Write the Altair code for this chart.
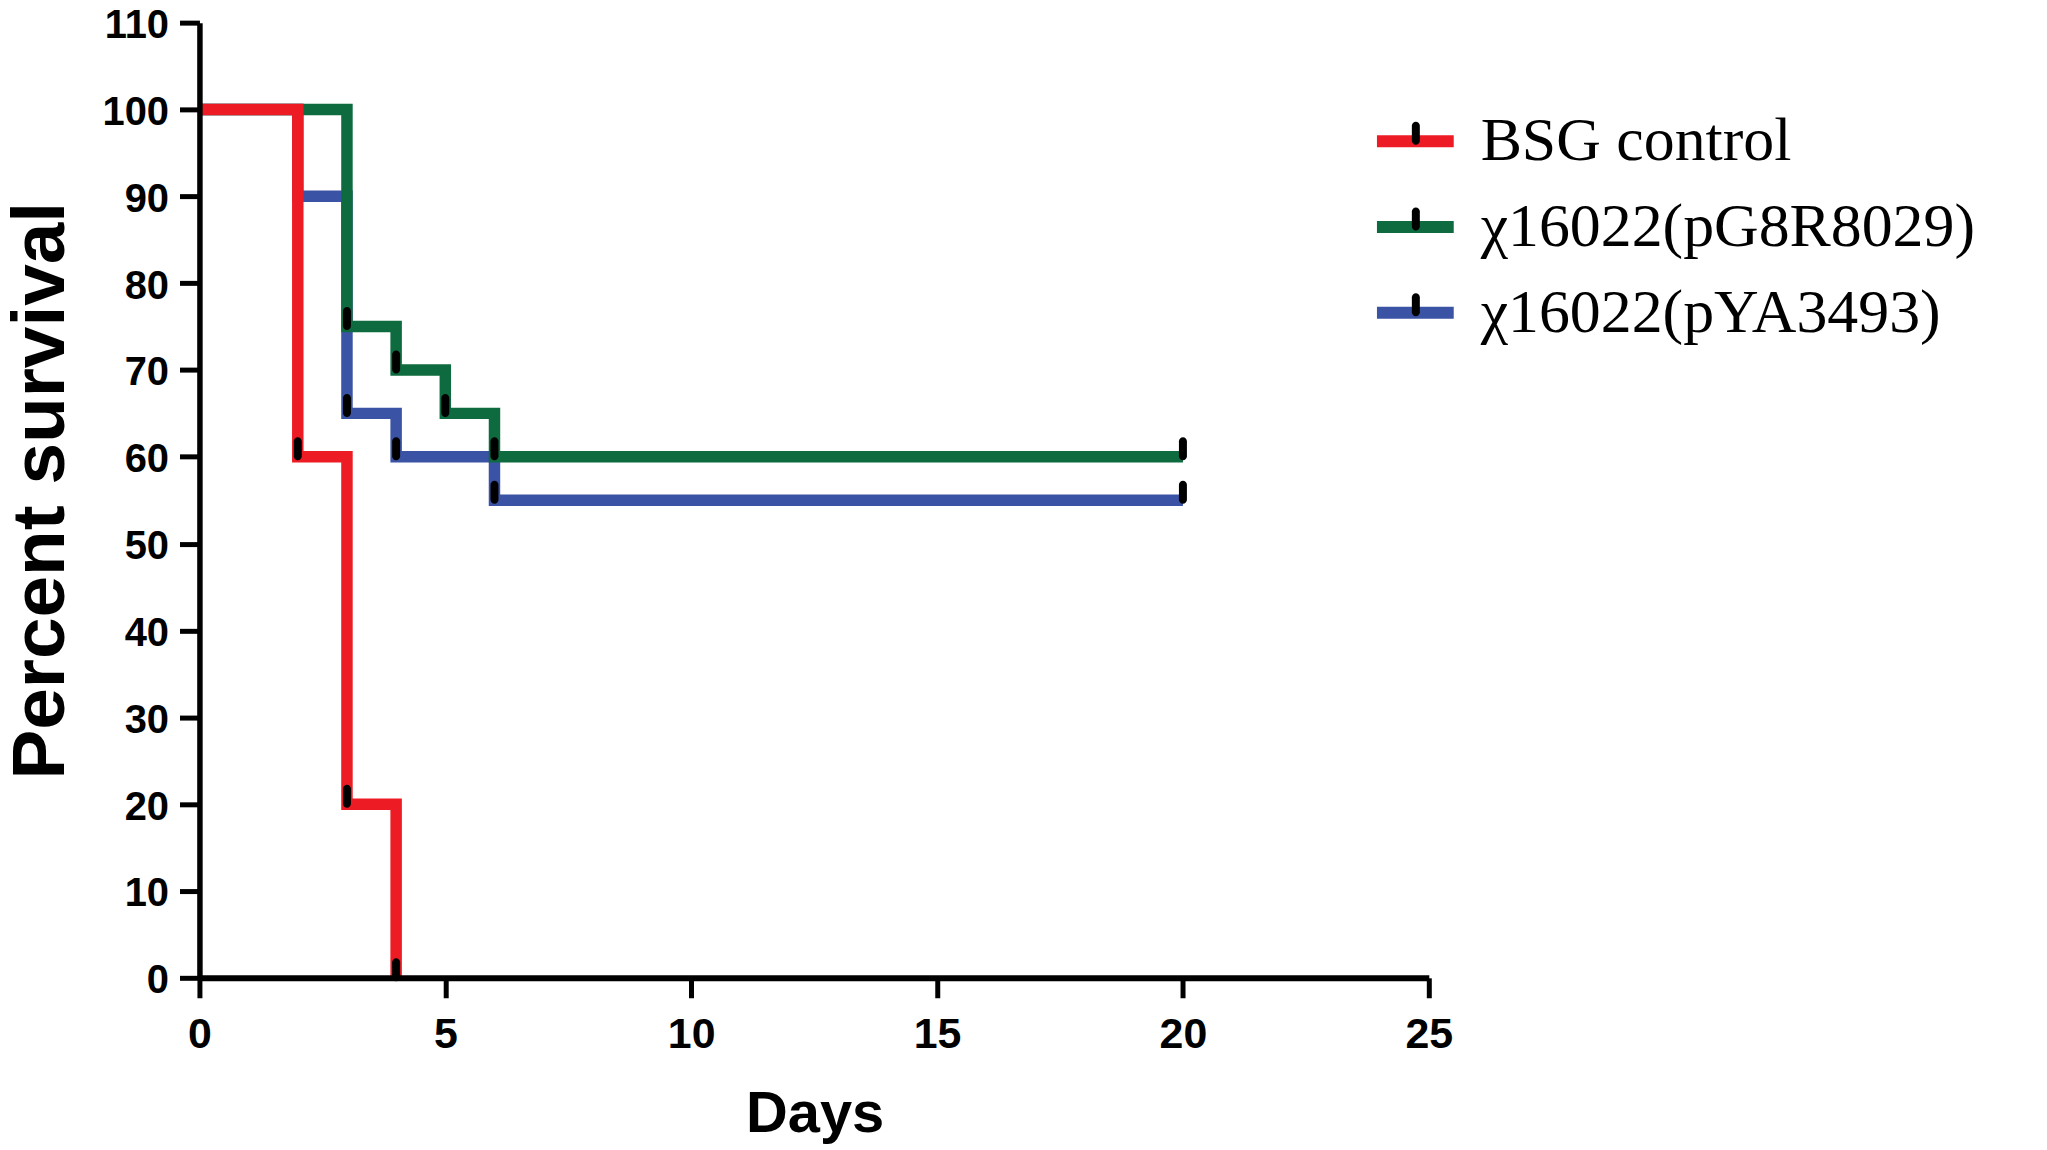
import altair as alt
import pandas as pd

series_names = ["BSG control", "χ16022(pG8R8029)", "χ16022(pYA3493)"]
series_colors = ["#ED1C24", "#0E6B3F", "#3A53A4"]

# Kaplan-Meier step points (day, percent survival)
bsg_days = [0, 2, 3, 4]
bsg_pct = [100, 60, 20, 0]
g8r_days = [0, 3, 4, 5, 6, 20]
g8r_pct = [100, 75, 70, 65, 60, 60]
ya_days = [0, 2, 3, 4, 6, 20]
ya_pct = [100, 90, 65, 60, 55, 55]

# censor / event tick marks
bsg_mark_days = [2, 3, 4]
bsg_mark_pct = [60, 20, 0]
g8r_mark_days = [3, 4, 5, 6, 20]
g8r_mark_pct = [75, 70, 65, 60, 60]
ya_mark_days = [3, 4, 6, 20]
ya_mark_pct = [65, 60, 55, 55]

x_ticks = [0, 5, 10, 15, 20, 25]
y_ticks = [0, 10, 20, 30, 40, 50, 60, 70, 80, 90, 100, 110]

rows = []
for name, ds, ps in zip(series_names, [bsg_days, g8r_days, ya_days], [bsg_pct, g8r_pct, ya_pct]):
    for d, p in zip(ds, ps):
        rows.append({"day": d, "pct": p, "series": name})
lines_df = pd.DataFrame(rows)

mrows = []
for name, ds, ps in zip(series_names, [bsg_mark_days, g8r_mark_days, ya_mark_days],
                        [bsg_mark_pct, g8r_mark_pct, ya_mark_pct]):
    for d, p in zip(ds, ps):
        mrows.append({"day": d, "pct": p, "group": name})
marks_df = pd.DataFrame(mrows)

TICK_PATH = "M-0.2,-0.775 A0.2,0.2 0 0 1 0.2,-0.775 L0.2,-0.025 A0.2,0.2 0 0 1 -0.2,-0.025 Z"

LEGEND_FONT = 62

x_enc = alt.X(
    "day:Q",
    scale=alt.Scale(domain=[0, 25], nice=False, zero=True),
    axis=alt.Axis(
        values=x_ticks, format="d", title="Days", grid=False, labelFlush=False,
        labelFont="Liberation Sans", labelFontWeight="bold", labelFontSize=43, labelColor="black",
        labelPadding=16, tickSize=20, tickWidth=5, tickColor="black",
        domainWidth=6, domainColor="black", zindex=1,
        titleFont="Liberation Sans", titleFontWeight="bold", titleFontSize=58, titleColor="black",
        titleX=617, titleY=154, titleBaseline="alphabetic", titleAlign="center",
    ),
)
y_enc = alt.Y(
    "pct:Q",
    scale=alt.Scale(domain=[0, 110], nice=False, zero=True),
    axis=alt.Axis(
        values=y_ticks, format="d", title="Percent survival", grid=False, labelFlush=False,
        labelFont="Liberation Sans", labelFontWeight="bold", labelFontSize=40, labelColor="black",
        labelPadding=11, labelOffset=3, labelBaseline="middle",
        tickSize=20, tickWidth=5, tickColor="black",
        domainWidth=5.5, domainColor="black", zindex=1,
        titleFont="Liberation Sans", titleFontWeight="bold", titleFontSize=75, titleColor="black",
        titleAngle=270, titleX=-136, titleY=469, titleBaseline="alphabetic", titleAlign="center",
    ),
)

color_enc = alt.Color(
    "series:N",
    scale=alt.Scale(domain=series_names, range=series_colors),
    legend=alt.Legend(
        title=None, orient="none", legendX=1175, legendY=86, padding=0,
        symbolType="stroke", symbolSize=5929, symbolStrokeWidth=12,
        labelFont="Liberation Serif", labelFontSize=LEGEND_FONT, labelColor="black",
        labelOffset=21, labelLimit=2000, rowPadding=20, clipHeight=66,
    ),
)

def line_layer(name):
    return alt.Chart(lines_df).transform_filter(
        alt.datum.series == name
    ).mark_line(
        interpolate="step-after", strokeWidth=11.5, strokeJoin="miter", strokeCap="butt", clip=False
    ).encode(x=x_enc, y=y_enc, color=color_enc)

points = alt.Chart(marks_df).mark_point(
    filled=True, color="black", size=1600, opacity=1, strokeWidth=0
).encode(
    x=x_enc, y=y_enc,
    shape=alt.Shape(
        "group:N",
        scale=alt.Scale(range=[TICK_PATH] * 3),
        legend=alt.Legend(
            title=None, orient="none", legendX=1189, legendY=86, padding=0,
            symbolSize=1600, symbolFillColor="black", symbolStrokeWidth=0, symbolOpacity=1,
            labelFont="Liberation Serif", labelFontSize=LEGEND_FONT, labelExpr="''",
            labelOffset=21, labelLimit=2000, rowPadding=20, clipHeight=66,
        ),
    ),
)

chart = alt.layer(
    line_layer(series_names[2]),
    line_layer(series_names[1]),
    line_layer(series_names[0]),
    points,
).properties(
    width=1233, height=958,
    background="white",
    autosize=alt.AutoSizeParams(type="none"),
    padding={"left": 192, "top": 13, "right": 612, "bottom": 165},
).configure_view(strokeWidth=0, stroke=None)

chart.save("out.html", embed_options={"renderer": "svg", "actions": False})
